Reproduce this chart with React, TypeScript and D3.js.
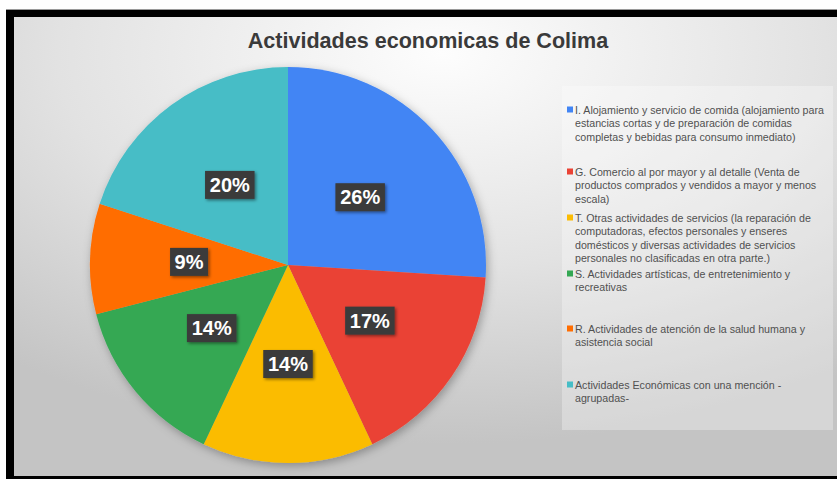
import React from "react";
import * as d3 from "d3";

const TITLE = "Actividades economicas de Colima";
const categories = ["I", "G", "T", "S", "R", "A"];
const values = [26, 17, 14, 14, 9, 20];
const colors = ["#4285F4", "#EA4335", "#FBBC04", "#34A853", "#FF6D01", "#46BDC6"];
const legendLines = [
  ["I. Alojamiento y servicio de comida (alojamiento para", "estancias cortas y de preparación de comidas", "completas y bebidas para consumo inmediato)"],
  ["G. Comercio al por mayor y al detalle (Venta de", "productos comprados y vendidos a mayor y menos", "escala)"],
  ["T. Otras actividades de servicios (la reparación de", "computadoras, efectos personales y enseres", "domésticos y diversas actividades de servicios", "personales no clasificadas en otra parte.)"],
  ["S. Actividades artísticas, de entretenimiento y", "recreativas"],
  ["R. Actividades de atención de la salud humana y", "asistencia social"],
  ["Actividades Económicas con una mención -", "agrupadas-"],
];
const legendItemY = [110, 172, 218, 274, 329, 385];

const W = 837;
const H = 479;
const cx = 288;
const cy = 265;
const R = 198;

export default function App() {
  const pie = d3.pie<number>().sort(null).value((d) => d)(values);
  const arc = d3.arc<d3.PieArcDatum<number>>().innerRadius(0).outerRadius(R);
  const labelArc = d3.arc<d3.PieArcDatum<number>>().innerRadius(R * 0.5).outerRadius(R * 0.5);
  const total = d3.sum(values);
  const fmt = (v: number) => `${Math.round((v / total) * 100)}%`;
  const font = "'Liberation Sans', Arial, sans-serif";

  return (
    <svg width={W} height={H} style={{ position: "fixed", left: 0, top: 0 }} xmlns="http://www.w3.org/2000/svg">
      <defs>
        <radialGradient id="bg" cx="52%" cy="8%" r="85%" fx="52%" fy="8%">
          <stop offset="0%" stopColor="#fdfdfd" />
          <stop offset="55%" stopColor="#e2e2e2" />
          <stop offset="100%" stopColor="#c4c4c4" />
        </radialGradient>
        <filter id="pieShadow" x="-20%" y="-20%" width="140%" height="140%">
          <feDropShadow dx="2" dy="3" stdDeviation="5" floodColor="#000" floodOpacity="0.3" />
        </filter>
        <filter id="boxShadow" x="-30%" y="-30%" width="160%" height="160%">
          <feDropShadow dx="1.5" dy="1.5" stdDeviation="1.5" floodColor="#000" floodOpacity="0.45" />
        </filter>
      </defs>
      <rect x={0} y={0} width={W} height={H} fill="#ffffff" />
      <rect x={6} y={9} width={W - 6} height={H - 9} fill="#000" />
      <rect x={6} y={9} width={W - 6} height={1} fill="#9a9a9a" />
      <rect x={14} y={17} width={W - 14} height={459} fill="url(#bg)" />

      <text x={428} y={48} textAnchor="middle" fontFamily={font} fontWeight="bold" fontSize={22} fill="#3a3a3a" transform="translate(428,0) scale(0.98,1) translate(-428,0)">
        {TITLE}
      </text>

      <g transform={`translate(${cx},${cy})`}>
        <g filter="url(#pieShadow)">
          {pie.map((d, i) => (
            <path key={categories[i]} d={arc(d) || ""} fill={colors[i]} />
          ))}
        </g>
        {pie.map((d, i) => {
          const [lx, ly] = labelArc.centroid(d);
          const txt = fmt(d.value);
          const bw = txt.length * 11.5 + 15;
          const bh = 28;
          return (
            <g key={"l" + i} transform={`translate(${lx},${ly})`}>
              <rect x={-bw / 2} y={-bh / 2} width={bw} height={bh} fill="#3b3b3b" filter="url(#boxShadow)" />
              <text x={0} y={7} textAnchor="middle" fontFamily={font} fontWeight="bold" fontSize={20} fill="#ffffff">
                {txt}
              </text>
            </g>
          );
        })}
      </g>

      <rect x={562} y={86} width={271} height={344} fill="#ffffff" fillOpacity={0.3} />
      {legendLines.map((lines, i) => (
        <g key={"lg" + i}>
          <rect x={567} y={legendItemY[i] - 3.5} width={6} height={6} fill={colors[i]} />
          <g transform="translate(575,0) scale(0.97,1) translate(-575,0)">
            {lines.map((ln, j) => (
              <text key={j} x={575} y={legendItemY[i] + 4 + j * 13.3} fontFamily={font} fontSize={11} fill="#505050">
                {ln}
              </text>
            ))}
          </g>
        </g>
      ))}
    </svg>
  );
}
